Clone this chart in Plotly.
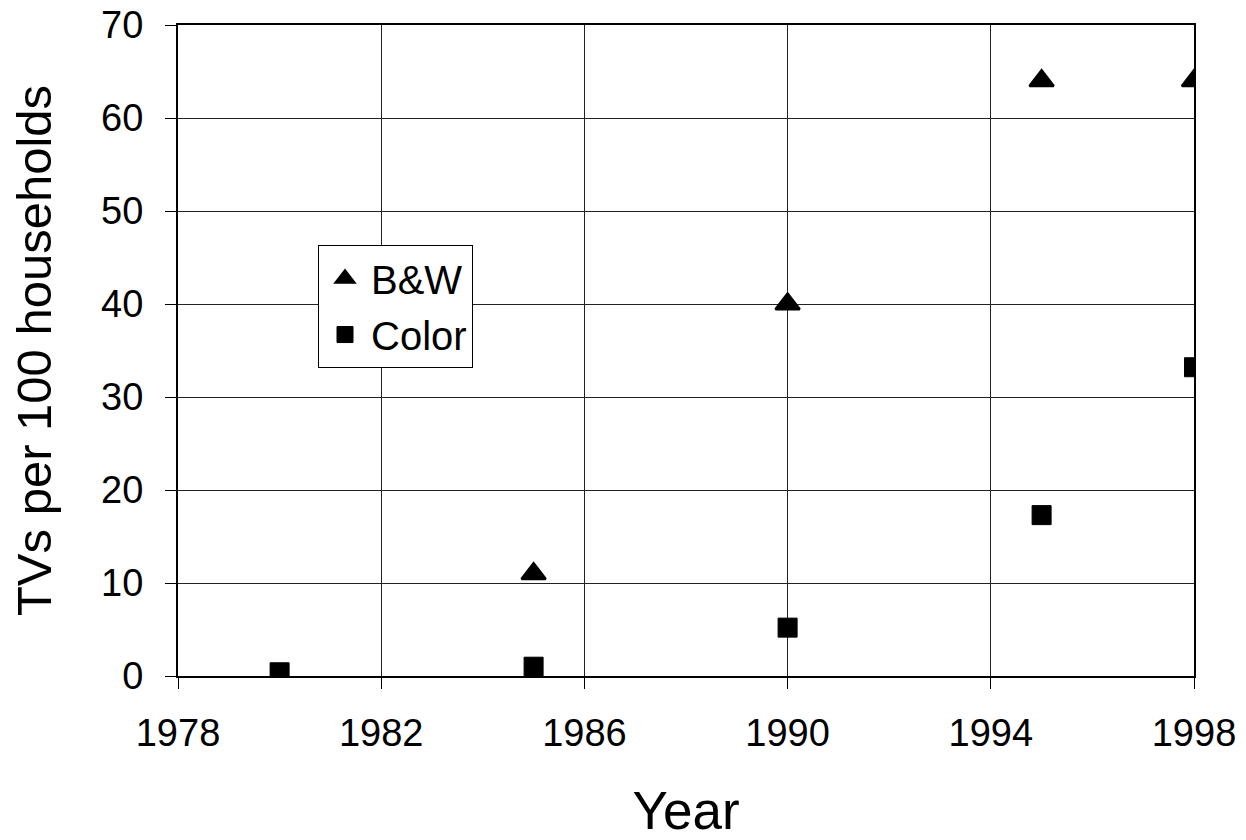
import plotly.graph_objects as go

years_bw = [1985, 1990, 1995, 1998]
bw_values = [11, 40, 64, 64]
years_color = [1980, 1985, 1990, 1995, 1998]
color_values = [0.4, 1.0, 5.2, 17.3, 33.2]

x_ticks = [1978, 1982, 1986, 1990, 1994, 1998]
y_ticks = [0, 10, 20, 30, 40, 50, 60, 70]

FONT = "Liberation Sans, Arial, sans-serif"

fig = go.Figure()
fig.add_trace(go.Scatter(
    x=years_bw, y=bw_values, mode="markers", name="B&W", legendgroup="a",
    marker=dict(symbol="triangle-up", size=21, color="black",
                line=dict(color="black", width=2.5)),
))
fig.add_trace(go.Scatter(
    x=years_color, y=color_values, mode="markers", name="Color", legendgroup="b",
    marker=dict(symbol="square", size=19, color="black",
                line=dict(color="black", width=1)),
))

axis_common = dict(
    showline=True, linecolor="black", linewidth=2, mirror=True,
    showgrid=True, gridcolor="#222222", gridwidth=1,
    ticks="outside", ticklen=11, tickcolor="black", tickwidth=1,
    tickfont=dict(family=FONT, size=38, color="black"),
    ticklabeloverflow="allow",
    zeroline=False,
)

fig.update_xaxes(range=[1978, 1998], tickvals=x_ticks, ticktext=[str(v) for v in x_ticks],
                 title=dict(text="Year", font=dict(family=FONT, size=53, color="black"), standoff=74),
                 ticklabelstandoff=11, **axis_common)
fig.update_yaxes(range=[0, 70], tickvals=y_ticks, ticktext=[str(v) for v in y_ticks],
                 title=dict(text="TVs per 100 households", font=dict(family=FONT, size=49, color="black"), standoff=34),
                 ticklabelstandoff=14, **axis_common)

fig.update_layout(
    width=1246, height=840,
    margin=dict(l=178, r=52, t=25, b=164, autoexpand=False),
    paper_bgcolor="white", plot_bgcolor="white",
    font=dict(family=FONT, color="black"),
    showlegend=True,
    legend=dict(
        x=0.1378, y=0.662, xanchor="left", yanchor="top",
        bgcolor="white", bordercolor="black", borderwidth=1,
        font=dict(family=FONT, size=40, color="black"),
        traceorder="grouped", tracegroupgap=1,
        itemwidth=42,
    ),
)

fig.write_html(
    "out.html",
    config={"displayModeBar": False},
    post_script="document.body.style.margin='0';document.body.style.overflow='hidden';",
)
